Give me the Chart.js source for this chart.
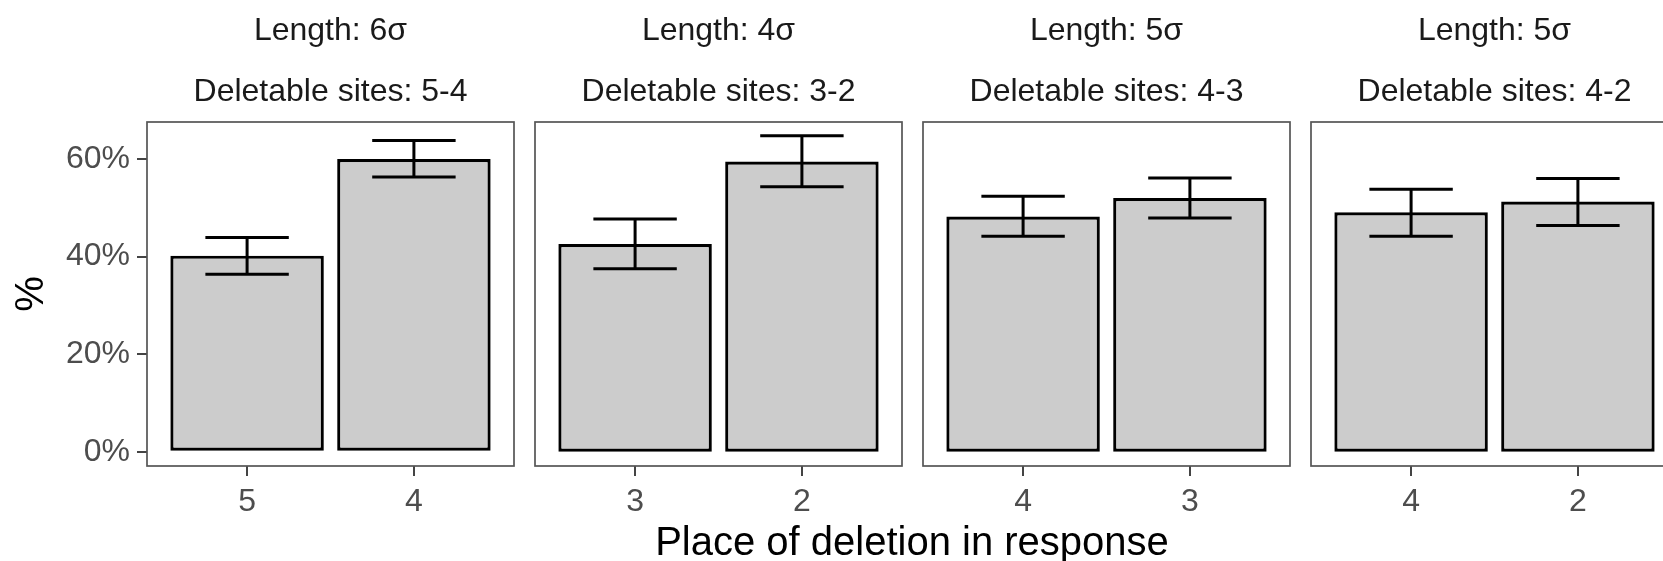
<!DOCTYPE html>
<html>
<head>
<meta charset="utf-8">
<script src="https://cdn.jsdelivr.net/npm/chart.js@4.4.0/dist/chart.umd.min.js"></script>
<style>
html, body { margin:0; padding:0; background:#fff; overflow:hidden; }
#wrap { position:relative; width:1663px; height:561px; overflow:hidden; }
.panel { position:absolute; top:0; height:561px; }
#xtitle { position:absolute; left:0; width:1824px; top:517px; font-family:"Liberation Sans", Arial, sans-serif; font-size:40px; line-height:48px; text-align:center; color:#000; }
</style>
</head>
<body>
<div id="wrap">
  <div class="panel" id="p0"><canvas id="c0"></canvas></div>
  <div class="panel" id="p1"><canvas id="c1"></canvas></div>
  <div class="panel" id="p2"><canvas id="c2"></canvas></div>
  <div class="panel" id="p3"><canvas id="c3"></canvas></div>
  <div id="xtitle">Place of deletion in response</div>
</div>
<script>
// facet labels
var lengths = ['6σ', '4σ', '5σ', '5σ'];
var sites = ['5-4', '3-2', '4-3', '4-2'];
// places of deletion (x categories per facet)
var places = [['5', '4'], ['3', '2'], ['4', '3'], ['4', '2']];
// percent choosing each place, with error bar limits
var pct = [[40.2, 60.0], [42.6, 59.5], [48.2, 52.0], [49.1, 51.3]];
var errLow = [[36.4, 56.3], [37.5, 54.3], [44.2, 47.9], [44.2, 46.4]];
var errHigh = [[43.9, 63.8], [47.7, 64.8], [52.4, 56.1], [53.8, 56.0]];
var yTicks = [0, 20, 40, 60];

var FONT = '"Liberation Sans", Arial, sans-serif';
var panelLeft = 147, panelPitch = 388, panelWidth = 367;
var areaBottom = 466, canvasH = 561;

// draws the grey frame round each facet
var framePlugin = {
    id: 'frame',
    afterDraw: function(chart) {
        var a = chart.chartArea, ctx = chart.ctx;
        ctx.save();
        ctx.strokeStyle = '#555555';
        ctx.lineWidth = 1.7;
        ctx.strokeRect(a.left, a.top, a.right - a.left, a.bottom - a.top);
        ctx.restore();
    }
};

function errorPlugin(p) {
    return {
        id: 'errbars' + p,
        afterDatasetsDraw: function(chart) {
            var xs = chart.scales.x, ys = chart.scales.y, ctx = chart.ctx;
            ctx.save();
            ctx.strokeStyle = '#000';
            ctx.lineWidth = 3;
            for (var i = 0; i < places[p].length; i++) {
                var x = xs.getPixelForValue(i + 1);
                var half = xs.getPixelForValue(i + 1.25) - x;
                var top = ys.getPixelForValue(errHigh[p][i]);
                var bot = ys.getPixelForValue(errLow[p][i]);
                ctx.beginPath();
                ctx.moveTo(x, top); ctx.lineTo(x, bot);
                ctx.moveTo(x - half, top); ctx.lineTo(x + half, top);
                ctx.moveTo(x - half, bot); ctx.lineTo(x + half, bot);
                ctx.stroke();
            }
            ctx.restore();
        }
    };
}

function makePanel(p) {
    var first = (p == 0);
    var box = document.getElementById('p' + p);
    var left = first ? 0 : panelLeft + p * panelPitch - 3;
    var width = first ? panelLeft + panelWidth + 3 : panelWidth + 6;
    box.style.left = left + 'px';
    box.style.width = width + 'px';

    var data = [];
    for (var i = 0; i < places[p].length; i++) {
        data.push({ x: i + 1, y: pct[p][i] });
    }

    new Chart(document.getElementById('c' + p), {
        type: 'bar',
        data: {
            datasets: [{
                data: data,
                backgroundColor: '#cccccc',
                borderColor: '#000000',
                borderWidth: 3.2,
                borderSkipped: false,
                categoryPercentage: 1,
                barPercentage: 0.92
            }]
        },
        options: {
            responsive: true,
            maintainAspectRatio: false,
            animation: false,
            layout: { padding: { left: first ? 0 : 3, right: 3, top: 0, bottom: 0 } },
            plugins: {
                legend: { display: false },
                tooltip: { enabled: false },
                title: {
                    display: true,
                    fullSize: false,
                    text: 'Length: ' + lengths[p],
                    color: '#1a1a1a',
                    font: { family: FONT, size: 32, weight: 'normal', lineHeight: 1.2 },
                    padding: { top: 12, bottom: 0 }
                },
                subtitle: {
                    display: true,
                    fullSize: false,
                    text: 'Deletable sites: ' + sites[p],
                    color: '#1a1a1a',
                    font: { family: FONT, size: 32, weight: 'normal', lineHeight: 1.2 },
                    padding: { top: 22.4, bottom: 10.8 }
                }
            },
            scales: {
                x: {
                    type: 'linear',
                    min: 0.4,
                    max: 2.6,
                    offset: false,
                    border: { display: false },
                    grid: { offset: false, drawOnChartArea: false, drawTicks: true, tickLength: 10, color: '#444444', lineWidth: 2 },
                    ticks: {
                        color: '#4d4d4d',
                        padding: 7,
                        font: { family: FONT, size: 32 },
                        callback: function(v, idx) { return places[p][idx]; }
                    },
                    afterBuildTicks: function(scale) {
                        scale.ticks = places[p].map(function(_, i) { return { value: i + 1 }; });
                    },
                    afterFit: function(scale) { scale.height = canvasH - areaBottom; }
                },
                y: {
                    display: first,
                    min: -2.93,
                    max: 67.6,
                    border: { display: false },
                    grid: { drawOnChartArea: false, drawTicks: true, tickLength: 10, color: '#444444', lineWidth: 2 },
                    ticks: {
                        color: '#4d4d4d',
                        padding: 7,
                        font: { family: FONT, size: 32 },
                        callback: function(v) { return v + '%'; }
                    },
                    title: {
                        display: true,
                        text: '%',
                        color: '#000',
                        font: { family: FONT, size: 40 },
                        padding: { top: 8, bottom: 0 }
                    },
                    afterBuildTicks: function(scale) {
                        scale.ticks = yTicks.map(function(v) { return { value: v }; });
                    },
                    afterFit: function(scale) { if (first) scale.width = panelLeft; }
                }
            }
        },
        plugins: [framePlugin, errorPlugin(p)]
    });
}

for (var p = 0; p < 4; p++) {
    makePanel(p);
}
</script>
</body>
</html>
